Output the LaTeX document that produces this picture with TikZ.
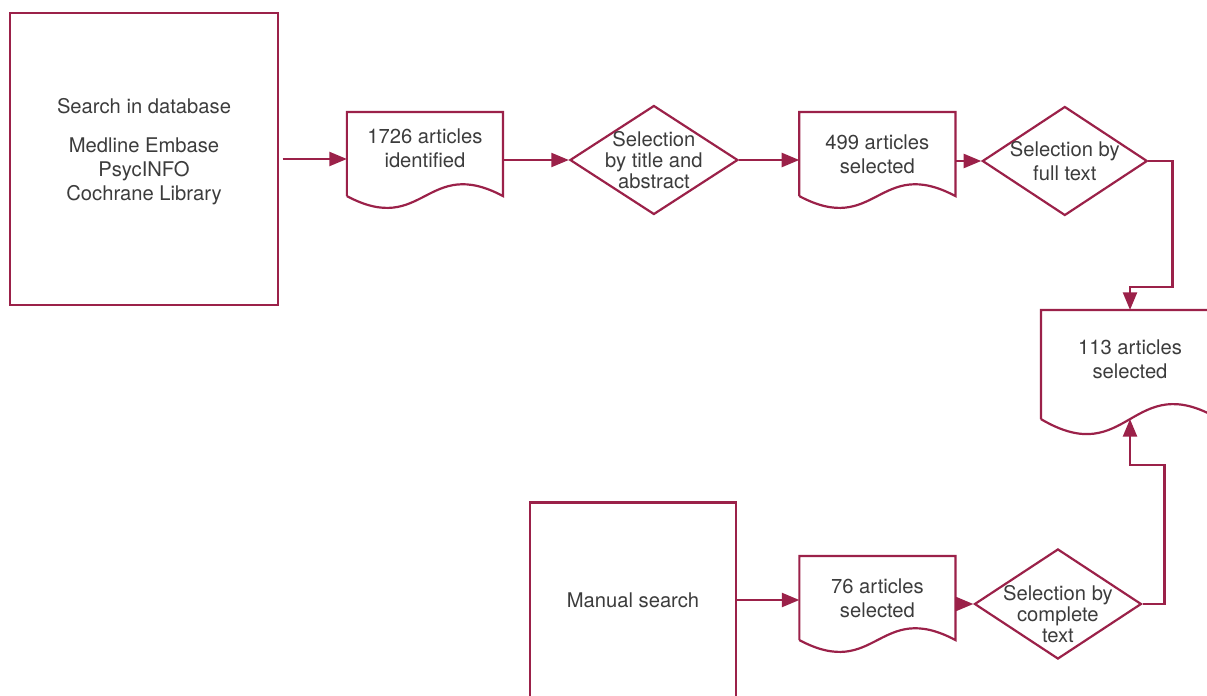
\documentclass[tikz,border=0pt]{standalone}
\usepackage{fontspec}
\setmainfont{TeX Gyre Heros}
\usepackage{xcolor}
\usetikzlibrary{arrows.meta,shapes.geometric}
\definecolor{wine}{HTML}{9B2149}
\definecolor{ink}{HTML}{3C3C3C}

\begin{document}
\begin{tikzpicture}[x=0.02cm,y=-0.02cm,line width=1.25pt,
  >={Triangle[length=10pt,width=8pt]},
  every node/.style={text=ink,align=center,font=\fontsize{11.5}{13.7}\selectfont},
  box node/.style={rectangle,draw=wine,inner sep=0pt},
  doc node/.style={rectangle,inner sep=0pt,minimum width=3.08cm,minimum height=1.64cm},
  raised/.style={execute at end node={\rule[-#1]{0pt}{0pt}}},
  select node/.style={diamond,draw=wine,inner xsep=-16pt,inner ysep=-6pt,
    font=\fontsize{11.5}{12}\selectfont},
  flow/.style={wine,->}]

  \useasboundingbox (0,0) rectangle (1207,696);

  % database branch
  \node[box node,minimum width=5.36cm,minimum height=5.84cm,raised=10.8pt]
    (search) at (144,159)
    {Search in database\\[8pt]Medline Embase\\PsycINFO\\Cochrane Library};
  \node[doc node,raised=6.3pt] (ident) [right of=search,node distance=5.62cm,yshift=0.1cm]
    {1726 articles\\identified};
  \node[select node,minimum width=3.36cm,minimum height=2.18cm] (sel1)
    [right of=ident,node distance=4.58cm,yshift=-0.12cm]
    {Selection\\by title and\\abstract};
  \node[doc node] (selb) [right of=sel1,node distance=4.47cm,yshift=0.12cm]
    {499 articles\\selected};
  \node[select node,minimum width=3.3cm,minimum height=2.18cm,
    font=\fontsize{11.5}{13.7}\selectfont] (sel2)
    [right of=selb,node distance=3.75cm,yshift=-0.14cm]
    {Selection by\\full text};

  % result
  \node[doc node,minimum width=3.52cm,minimum height=2.14cm,raised=6.3pt] (final)
    at (1130,364.5) {113 articles\\selected};

  % manual branch
  \node[box node,minimum width=4.12cm,minimum height=3.9cm] (manual) at (633,600)
    {Manual search};
  \node[doc node] (mansel) [right of=manual,node distance=4.89cm,yshift=0.04cm]
    {76 articles\\selected};
  \node[select node,minimum width=3.34cm,minimum height=2.16cm] (sel3)
    [right of=mansel,node distance=3.61cm,yshift=-0.12cm]
    {\rule{0pt}{20pt}Selection by\\complete\\text};

  % document outlines
  \foreach \n/\w/\d in {ident/77/41,selb/77/41,mansel/77/41,final/88/52}
    \draw[wine] (\n.south west) -- (\n.north west) -- (\n.north east) -- (\n.south east)
      .. controls +(-\w,-\d) and +(\w,\d) .. (\n.south west);

  \path[flow]
    ([xshift=2pt]search.east) edge (search.east -| ident.west)
    (sel1.west -| ident.east) edge (sel1.west)
    (sel1.east) edge (sel1.east -| selb.west)
    (sel2.west -| selb.east) edge (sel2.west)
    (manual.east) edge (manual.east -| mansel.west)
    (sel3.west -| mansel.east) edge (sel3.west);
  \draw[flow] (sel2.east) -- ++(24,0) -- ++(0,126) -| (final.north);
  \draw[flow] (sel3.east) -- ++(22,0) -- ++(0,-139) -| (final.south);
\end{tikzpicture}
\end{document}
